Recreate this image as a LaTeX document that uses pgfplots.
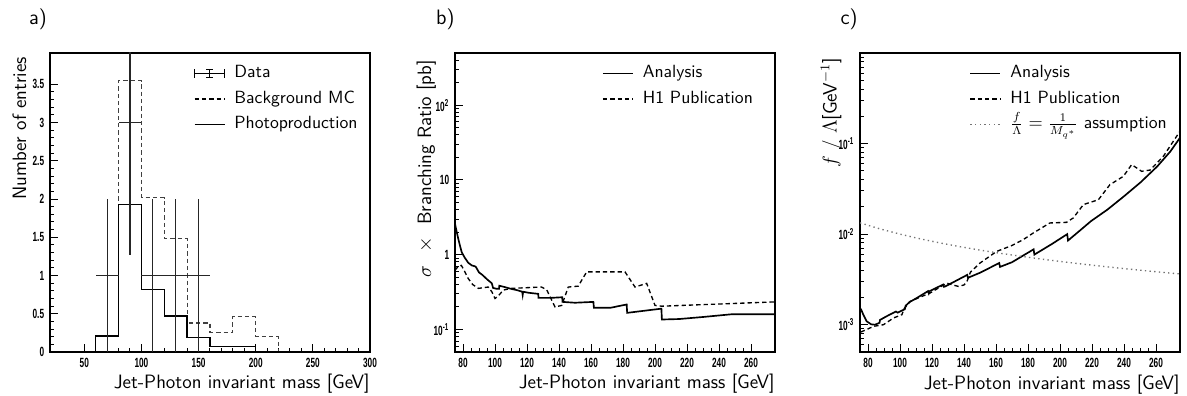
\documentclass[border=0pt]{standalone}
\usepackage{fontspec}
\usepackage{pgfplots}
\pgfplotsset{compat=1.18}
\newfontfamily\tickfont[FakeStretch=0.62]{Liberation Sans}
\newcommand\tf{\tickfont\bfseries\fontsize{8}{9}\selectfont}
\newcommand\lab{\sffamily\fontsize{10.6}{12}\selectfont}
\newcommand\tit{\sffamily\fontsize{11.6}{13}\selectfont}
\newcommand\pan{\sffamily\fontsize{12.5}{14}\selectfont}
\pgfplotsset{
  rootax/.style={
    scale only axis, width=192pt, height=179.4pt,
    clip mode=individual,
    axis line style={line width=0.7pt},
    tick align=inside, xtick pos=bottom, ytick pos=left,
    major tick length=4.8pt, minor tick length=2.4pt,
    tick style={black, line width=0.6pt},
    ticklabel style={font=\tf},
    /pgf/number format/assume math mode=true,
    label style={font=\tit},
    xlabel style={at={(rel axis cs:1,0)}, anchor=base east, yshift=-22.2pt, inner sep=0pt},
    ylabel style={anchor=base east, inner sep=0pt},
    legend style={draw=none, fill=none, font=\lab, anchor=north west,
      nodes={inner sep=0pt, text height=7pt, text depth=2pt},
      row sep=6.3pt, column sep=5.4pt},
    legend cell align=left,
    legend image code/.code={\draw[##1] (0pt,0pt) -- (18pt,0pt);},
  },
  dsh/.style={dash pattern=on 2.6pt off 1.8pt},
}
\begin{document}
\begin{tikzpicture}
\useasboundingbox (-30pt,-26.4pt) rectangle (682.2pt,211.2pt);
% ---------------- a) ----------------
\begin{axis}[rootax, at={(0pt,0pt)}, anchor=south west,
  xmin=20, xmax=300, ymin=0, ymax=3.91,
  xtick={50,100,150,200,250,300}, minor x tick num=4,
  ytick={0,0.5,1,1.5,2,2.5,3,3.5}, minor y tick num=4,
  xlabel={Jet-Photon invariant mass [GeV]},
  ylabel={Number of entries},
  ylabel style={at={(axis description cs:-0.075,0.987)}},
  legend style={at={(axis description cs:0.433,0.969)}},
]
\addlegendimage{black, line width=0.7pt, legend image code/.code={
  \draw[line width=0.7pt] (0pt,0pt) -- (18pt,0pt);
  \draw[line width=0.7pt] (0pt,-2.5pt) -- (0pt,2.5pt);
  \draw[line width=0.7pt] (18pt,-2.5pt) -- (18pt,2.5pt);
  \draw[line width=0.7pt] (9pt,-2.5pt) -- (9pt,2.5pt);
  \draw[line width=0.7pt] (7pt,2.5pt) -- (11pt,2.5pt);
  \draw[line width=0.7pt] (7pt,-2.5pt) -- (11pt,-2.5pt);}}
\addlegendentry{Data}
\addlegendimage{black, dsh, line width=0.7pt}
\addlegendentry{Background MC}
\addlegendimage{black, line width=0.9pt}
\addlegendentry{Photoproduction}
\addplot[forget plot, const plot mark left, black!75, dsh, line width=0.7pt] coordinates {
 (20,0) (60,0.21) (80,3.55) (100,2.02) (120,1.48) (140,0.38) (160,0.26) (180,0.46) (200,0.20) (220,0) (300,0)};
\addplot[forget plot, const plot mark left, black, line width=0.9pt] coordinates {
 (20,0) (60,0.21) (80,1.93) (100,0.82) (120,0.47) (140,0.19) (160,0.07) (180,0.07) (200,0) (300,0)};
\addplot[forget plot, only marks, mark=*, mark options={draw opacity=0, fill opacity=0},
  error bars/.cd, x dir=both, x explicit, y dir=both, y explicit,
  error mark=none, error bar style={line width=0.7pt, black!85}] coordinates {
 (70,1) +- (10,1)
 (90,3) +- (10,1.73)
 (110,1) +- (10,1)
 (130,1) +- (10,1)
 (150,1) +- (10,1)};
\node[font=\pan, anchor=base west, inner sep=0pt] at (axis description cs:-0.066,1.094) {a)};
\end{axis}
% ---------------- b) ----------------
\begin{axis}[rootax, at={(243pt,0pt)}, anchor=south west,
  ymode=log, xmin=75, xmax=275, ymin=0.05, ymax=500,
  xtick={80,100,...,260}, minor x tick num=3,
  ytick={0.1,1,10,100}, yticklabels={10\textsuperscript{-1},1,10,10\textsuperscript{2}},
  minor ytick={0.06,0.07,0.08,0.09,0.2,0.3,0.4,0.5,0.6,0.7,0.8,0.9,2,3,4,5,6,7,8,9,20,30,40,50,60,70,80,90,200,300,400},
  xlabel={Jet-Photon invariant mass [GeV]},
  ylabel={$\sigma$ \ $\times$ \ Branching Ratio [pb]},
  ylabel style={at={(axis description cs:-0.075,0.977)}},
  legend style={at={(axis description cs:0.443,0.969)}},
]
\addplot[black, line width=1pt] coordinates {
 (75,2.6)(76,2.05)(77,1.65)(78,1.35)(79.2,1.08)(81,0.92)(83.3,0.78)(85.5,0.72)(87.5,0.70)(88,0.69)(90,0.58)(92,0.54)(95,0.47)(98,0.415)(98.8,0.36)(101,0.35)(102.5,0.35)(102.7,0.385)(106,0.37)(110,0.35)(114,0.335)(117,0.32)(117.3,0.29)(117.6,0.32)(121,0.31)(127,0.30)(127.2,0.265)(135,0.265)(142,0.27)(142.2,0.234)(150,0.228)(161.5,0.234)(161.8,0.195)(172,0.195)(182.3,0.216)(182.6,0.167)(195,0.18)(204,0.19)(204.3,0.136)(215,0.138)(230,0.147)(248,0.16)(275,0.16)};
\addlegendentry{Analysis}
\addplot[black, dsh, line width=0.8pt] coordinates {
 (75,0.62)(77,0.70)(79,0.72)(81,0.6)(83.3,0.48)(86,0.40)(89.6,0.355)(95.8,0.37)(98,0.32)(100,0.26)(102,0.28)(105.2,0.337)(110.4,0.355)(129,0.37)(132.3,0.34)(137.5,0.20)(141.7,0.21)(145.8,0.37)(152,0.38)(157.3,0.59)(181.25,0.59)(187.5,0.37)(194.8,0.414)(200,0.21)(204.2,0.205)(275,0.234)};
\addlegendentry{H1 Publication}
\node[font=\pan, anchor=base west, inner sep=0pt] at (axis description cs:-0.06,1.094) {b)};
\end{axis}
% ---------------- c) ----------------
\begin{axis}[rootax, at={(486pt,0pt)}, anchor=south west,
  ymode=log, xmin=75, xmax=275, ymin=0.0005, ymax=1,
  xtick={80,100,...,260}, minor x tick num=3,
  ytick={0.001,0.01,0.1}, yticklabels={10\textsuperscript{-3},10\textsuperscript{-2},10\textsuperscript{-1}},
  minor ytick={0.0006,0.0007,0.0008,0.0009,0.002,0.003,0.004,0.005,0.006,0.007,0.008,0.009,0.02,0.03,0.04,0.05,0.06,0.07,0.08,0.09,0.2,0.3,0.4,0.5,0.6,0.7,0.8,0.9},
  xlabel={Jet-Photon invariant mass [GeV]},
  ylabel={$f$ / $\Lambda$[GeV$^{-1}$]},
  ylabel style={at={(axis description cs:-0.073,0.983)}},
  legend style={at={(axis description cs:0.326,0.969)}},
]
\addplot[black, line width=1pt] coordinates {
 (75.5,1.5e-3)(77,1.3e-3)(79.2,1.09e-3)(82,1.01e-3)(84.3,1.0e-3)(87.2,1.05e-3)(87.5,1.13e-3)(92,1.25e-3)(97.5,1.40e-3)(98.5,1.36e-3)(101,1.43e-3)(103,1.48e-3)(103.5,1.62e-3)(106,1.78e-3)(110,1.95e-3)(117.5,2.35e-3)(118,2.22e-3)(118.5,2.35e-3)(127,2.78e-3)(127.5,2.62e-3)(128.5,2.66e-3)(142,3.55e-3)(142.5,3.3e-3)(150,3.75e-3)(162,4.8e-3)(162.5,4.35e-3)(170,4.9e-3)(183.5,6.8e-3)(184,5.95e-3)(195,7.8e-3)(204.5,1.0e-2)(205,8.5e-3)(212,1.08e-2)(219.3,1.39e-2)(229.7,1.87e-2)(240,2.62e-2)(250.4,3.74e-2)(260.8,5.6e-2)(269,8.2e-2)(275,1.16e-1)};
\addlegendentry{Analysis}
\addplot[black, dsh, line width=0.8pt] coordinates {
 (75.5,8.3e-4)(80,9.0e-4)(83.5,9.6e-4)(89.6,1.0e-3)(96,1.19e-3)(101.2,1.29e-3)(102.5,1.5e-3)(106.3,1.81e-3)(118.8,2.24e-3)(129.2,2.88e-3)(133,2.75e-3)(136.5,2.65e-3)(140,2.75e-3)(141.7,2.95e-3)(144,3.8e-3)(150,4.8e-3)(160.4,6.45e-3)(170,7.5e-3)(177,8.7e-3)(183.3,1.03e-2)(193.7,1.33e-2)(204,1.35e-2)(208.3,1.51e-2)(214.6,2.12e-2)(224,2.4e-2)(231.2,3.52e-2)(239.6,4.35e-2)(244.8,5.86e-2)(251,4.94e-2)(256.3,5.1e-2)(264.6,7.24e-2)(275,0.137)};
\addlegendentry{H1 Publication}
\addplot[black!55, dotted, line width=0.8pt] coordinates {
 (75,0.01333)(87.5,0.01143)(100,0.01)(112.5,0.008889)(125,0.008)(137.5,0.007273)(150,0.006667)(162.5,0.006154)(175,0.005714)(187.5,0.005333)(200,0.005)(212.5,0.004706)(225,0.004444)(237.5,0.004211)(250,0.004)(262.5,0.00381)(275,0.003636)};
\addlegendentry{$\frac{f}{\Lambda}=\frac{1}{M_{q^*}}$ assumption}
\node[font=\pan, anchor=base west, inner sep=0pt] at (axis description cs:-0.062,1.094) {c)};
\end{axis}
\end{tikzpicture}
\end{document}
